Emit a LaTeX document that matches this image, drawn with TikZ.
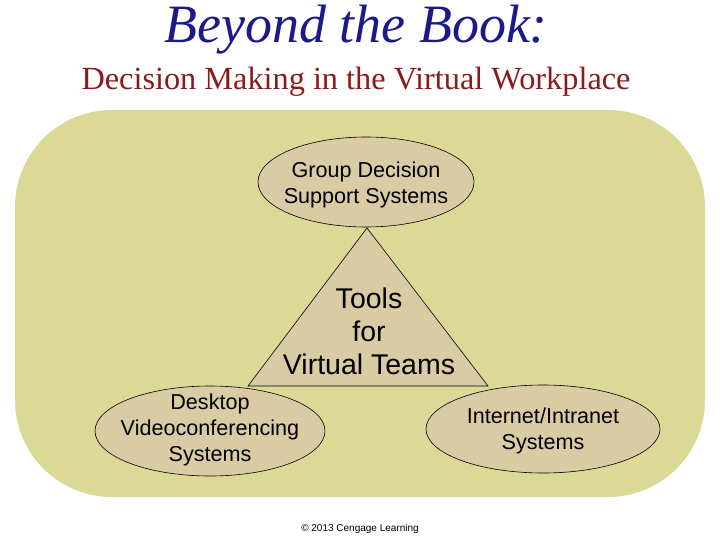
\documentclass[tikz,border=0pt]{standalone}
\usepackage{fontspec}
\usetikzlibrary{shapes.geometric}
\setmainfont{Liberation Serif}
\newfontfamily\arialfont{Liberation Sans}
\definecolor{bgkhaki}{HTML}{DCD896}
\definecolor{tan}{HTML}{D9CBA3}
\definecolor{titleblue}{HTML}{1A1A8C}
\definecolor{subred}{HTML}{8B1A1A}
\begin{document}
\begin{tikzpicture}[x=1pt,y=-1pt,
  oval/.style={ellipse, draw=black, line width=0.6pt, fill=tan, inner sep=0pt},
  bodytext/.style={font=\arialfont\fontsize{21.6}{26}\selectfont, align=center, text=black}]
\useasboundingbox (0,0) rectangle (720,540);
% background panel
\fill[bgkhaki, rounded corners=97pt] (15,110) rectangle (705,497);
% titles
\node[font=\itshape\fontsize{54}{58}\selectfont, text=titleblue] (title) at (356,30) {Beyond the Book:};
\node[font=\fontsize{32.3}{35}\selectfont, text=subred] (subtitle) at (356,82) {Decision Making in the Virtual Workplace};
% triangle
\coordinate (apex) at (367,228);
\coordinate (bl) at (248,386);
\coordinate (br) at (488,386);
\draw[fill=tan, line width=0.6pt, line join=miter] (apex) -- (br) -- (bl) -- cycle;
\node[font=\arialfont\fontsize{28.5}{33}\selectfont, align=center] (tools) at (369,331) {Tools\\for\\Virtual Teams};
% ellipses
\node[oval, minimum width=216pt, minimum height=90pt] (gdss) at (366,182) {};
\node[bodytext] (gdsst) at ([yshift=-3pt]gdss.center) {Group Decision\\Support Systems};
\node[oval, minimum width=230pt, minimum height=90pt] (dvc) at (210,431) {};
\node[bodytext] (dvct) at ([yshift=1pt]dvc.center) {Desktop\\Videoconferencing\\Systems};
\node[oval, minimum width=234pt, minimum height=88pt] (iis) at (543,429) {};
\node[bodytext] (iist) at ([yshift=-2pt]iis.center) {Internet/Intranet\\Systems};
% copyright
\node[font=\arialfont\fontsize{10}{12}\selectfont] (copy) at (360,529) {© 2013 Cengage Learning};
\end{tikzpicture}
\end{document}
